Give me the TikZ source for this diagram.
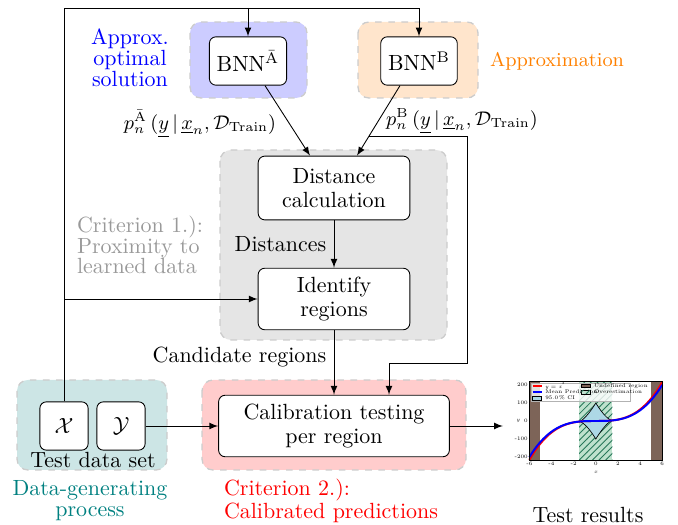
\documentclass[tikz,border=0pt]{standalone}
\usepackage{amsmath,amssymb}
\usetikzlibrary{calc,patterns,arrows}

\definecolor{regionbrown}{RGB}{125,100,88}
\definecolor{cifill}{RGB}{173,216,230}
\definecolor{hatchbg}{RGB}{190,225,205}
\definecolor{hatchline}{RGB}{40,120,90}

\tikzset{
    block/.style={draw, rounded corners=3pt, fill=white, align=center, font=\fontsize{10}{11}\selectfont},
    bgbox/.style={draw=black!20, dashed, rounded corners=5pt, line width=0.6pt},
    lbl/.style={font=\fontsize{10}{9.5}\selectfont},
    plotfont/.style={font=\fontsize{2.4}{2.6}\selectfont, inner sep=0.5pt}
}

\begin{document}
\begin{tikzpicture}[x=0.455pt, y=-0.455pt, >=latex]
    \useasboundingbox (0,0) rectangle (678,525);

    % groups
    \draw[bgbox, fill=blue!20]   (190,22) rectangle (307,98);
    \draw[bgbox, fill=orange!20] (358,22) rectangle (478,98);
    \draw[bgbox, fill=black!10]  (220,150) rectangle (447,340);
    \draw[bgbox, fill=red!20]    (202,380) rectangle (466,470);
    \draw[bgbox, fill=teal!20]   (17,380) rectangle (167,470);

    % blocks
    \node[block, minimum width=32pt, minimum height=22pt] (bnnA) at (248,61) {BNN$^{\bar{\mathrm{A}}}$};
    \node[block, minimum width=32pt, minimum height=22pt] (bnnB) at (419,61) {BNN$^{\mathrm{B}}$};
    \node[block, minimum width=69pt, minimum height=29pt] (dist) at (334,188) {Distance\\calculation};
    \node[block, minimum width=69pt, minimum height=28pt] (ident) at (334,299) {Identify\\regions};
    \node[block, minimum width=105pt, minimum height=28pt] (calib) at (334,426) {Calibration testing\\per region};
    \node[block, minimum size=22pt] (xset) at (64,426) {$\mathcal{X}$};
    \node[block, minimum size=22pt] (yset) at (121,426) {$\mathcal{Y}$};
    \node (testset) at (93,460) {Test data set};

    % labels
    \node[lbl, blue, align=center] (optlbl) at (130,58) {Approx.\\optimal\\solution};
    \node[orange, font=\fontsize{9}{10}\selectfont] (applbl) at (557,61) {Approximation};
    \node[lbl, black!40, align=left] (crit1) at (140,245) {Criterion 1.):\\Proximity to\\learned data};
    \node[lbl, red, align=left] (crit2) at (331,501) {Criterion 2.):\\Calibrated predictions};
    \node[lbl, teal, align=center] (dgp) at (90,501) {Data-generating\\process};
    \node (restitle) at (588,515) {Test results};
    \node[font=\small] (pA) at (200,124) {$p_n^{\bar{\mathrm{A}}}\,(\underline{y}\,|\,\underline{x}_n,\mathcal{D}_{\mathrm{Train}})$};
    \node[font=\small] (pB) at (462,121) {$p_n^{\mathrm{B}}\,(\underline{y}\,|\,\underline{x}_n,\mathcal{D}_{\mathrm{Train}})$};

    % connectors
    \coordinate (top) at (64,8);
    \draw[->] (xset.north) -- (top) -| (bnnB.north);
    \draw[->] (bnnA.north |- top) -- (bnnA.north);
    \draw[->] (xset.north |- ident) -- (ident.west);
    \coordinate (aout) at ($(bnnA.south)+(17,0)$);
    \draw[->] (aout) -- ($(dist.north)+(-24,0)$);
    \coordinate (bout) at ($(bnnB.south)+(-19,0)$);
    \coordinate (bin) at ($(dist.north)+(23,0)$);
    \draw[->] (bout) -- (bin);
    \coordinate (bsplit) at ($(bout)!0.72!(bin)$);
    \coordinate (bend) at (467,363);
    \draw[->] (bsplit) -| (bend) -| ($(calib.north)+(55,0)$);
    \draw[->] (dist) -- node[left] {Distances} (ident);
    \draw[->] (ident) -- node[left, pos=0.42] {Candidate regions} (calib);
    \draw[->] (yset) -- (calib);
    \coordinate (resin) at (503,426);
    \draw[->] (calib) -- (resin);

    % test results plot
    \begin{scope}[shift={(595.8,421)}, x=5.04pt, y=0.0819pt]
        \fill[regionbrown] (-6,-217) rectangle (-5,217);
        \fill[regionbrown] (5,-217) rectangle (6,217);
        \fill[hatchbg] (-1.5,-217) rectangle (1.5,217);
        \fill[pattern=north east lines, pattern color=hatchline] (-1.5,-217) rectangle (1.5,217);
        \draw[fill=cifill, line width=0.3pt] plot[domain=-1.5:1.5, samples=31] (\x, {\x*\x*\x + 100*(1-abs(\x)/1.5)*sqrt(1-abs(\x)/1.5)})
            -- plot[domain=1.5:-1.5, samples=31] (\x, {\x*\x*\x - 100*(1-abs(\x)/1.5)*sqrt(1-abs(\x)/1.5)}) -- cycle;
        \draw[red, line width=0.9pt] plot[domain=-6:6, samples=49] (\x, {\x*\x*\x});
        \draw[blue, line width=0.9pt] plot[domain=-6:6, samples=49] (\x, {0.93*\x*\x*\x});
        % legend
        \draw[black!30, fill=white, fill opacity=0.8, line width=0.2pt] (-5.85,110) rectangle (3.1,212);
        \draw[red, line width=0.7pt] (-5.7,195) -- (-4.9,195);
        \draw[blue, line width=0.7pt] (-5.7,160) -- (-4.9,160);
        \draw[fill=cifill, line width=0.2pt] (-5.7,118) rectangle (-4.9,138);
        \node[plotfont, anchor=west] (lgA) at (-4.7,195) {\textit{y} = \textit{x}\textsuperscript{3}};
        \node[plotfont, anchor=west] (lgB) at (-4.7,160) {Mean Prediction};
        \node[plotfont, anchor=west] (lgC) at (-4.7,128) {95.0\,\% CI};
        \draw[fill=regionbrown, line width=0.2pt] (-1.3,185) rectangle (-0.5,205);
        \draw[fill=hatchbg, line width=0.2pt] (-1.3,150) rectangle (-0.5,170);
        \fill[pattern=north east lines, pattern color=hatchline] (-1.3,150) rectangle (-0.5,170);
        \node[plotfont, anchor=west] (lgD) at (-0.3,195) {Undefined region};
        \node[plotfont, anchor=west] (lgE) at (-0.3,160) {Overestimation};
        % axes
        \draw[line width=0.4pt] (-6,-217) rectangle (6,217);
        \foreach \t in {-6,-4,...,6}
            \node[plotfont, below] at (\t,-217) {\t};
        \foreach \v in {-200,-100,0,100,200}
            \node[plotfont, left] at (-6,\v) {\v};
        \node[plotfont] (xlab) at (0,-283) {\textit{x}};
        \node[plotfont] (ylab) at (-7,0) {\textit{y}};
    \end{scope}
\end{tikzpicture}
\end{document}
